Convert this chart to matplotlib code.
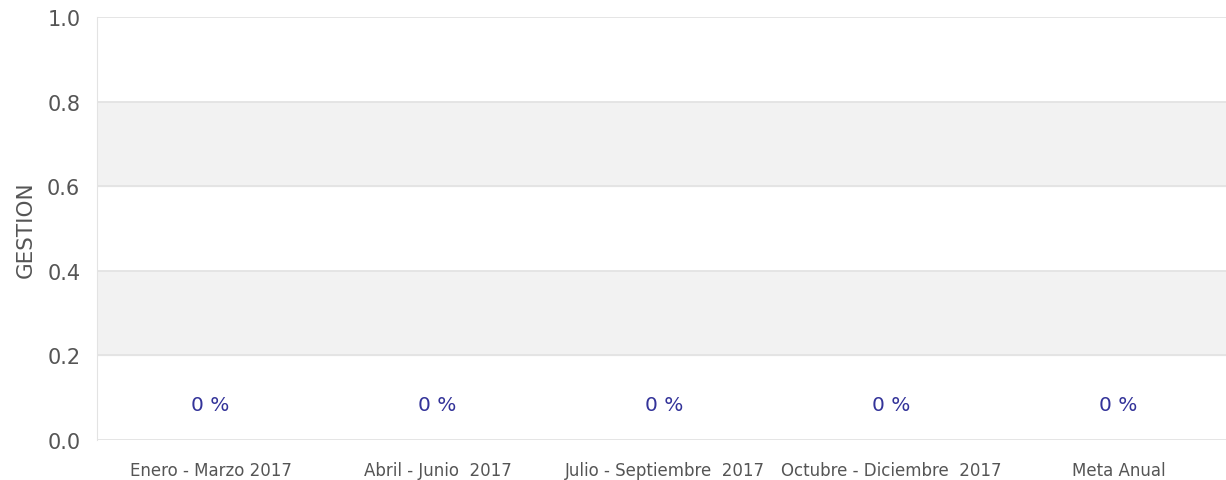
import matplotlib.pyplot as plt

plt.rcParams["font.family"] = ["DejaVu Sans"]

categorias = ["Enero - Marzo 2017", "Abril - Junio  2017", "Julio - Septiembre  2017",
              "Octubre - Diciembre  2017", "Meta Anual"]
valores = [0, 0, 0, 0, 0]
etiquetas = ["0 %", "0 %", "0 %", "0 %", "0 %"]
y_ticks = [0.0, 0.2, 0.4, 0.6, 0.8, 1.0]

fig = plt.figure(figsize=(12.26, 4.81), dpi=100)
ax = fig.add_axes([97 / 1226, 1 - 441 / 481, 1135 / 1226, 423 / 481])

# bandas alternas
for i in range(len(y_ticks) - 1):
    if i % 2 == 1:
        ax.axhspan(y_ticks[i], y_ticks[i + 1], color="#f2f2f2", zorder=0)
for y in y_ticks:
    ax.axhline(y, color="#e3e3e3", lw=1.3, zorder=1)

x = range(len(categorias))
bars = ax.bar(x, valores, width=0.6, color="#4572a7", zorder=2)
for b, lab in zip(bars, etiquetas):
    ax.annotate(lab, (b.get_x() + b.get_width() / 2, b.get_height()),
                xytext=(0, 19), textcoords="offset points", ha="center", va="bottom",
                color="#333399", fontsize=14.5, fontweight="medium")

ax.set_xlim(-0.5, len(categorias) - 0.5)
ax.set_ylim(0, 1.0)
ax.set_yticks(y_ticks)
ax.set_yticklabels([f"{v:.1f}" for v in y_ticks], fontsize=15, color="#555555")
ax.set_xticks(list(x))
ax.set_xticklabels(categorias, fontsize=12, color="#555555")
ax.tick_params(axis="y", length=0, pad=12)
ax.tick_params(axis="x", length=0, pad=15)
for s in ["top", "right", "bottom"]:
    ax.spines[s].set_visible(False)
ax.spines["left"].set_color("#e3e3e3")
ax.set_ylabel("GESTION", fontsize=15.5, color="#555555", labelpad=8)

fig.savefig("out.png", dpi=100)
